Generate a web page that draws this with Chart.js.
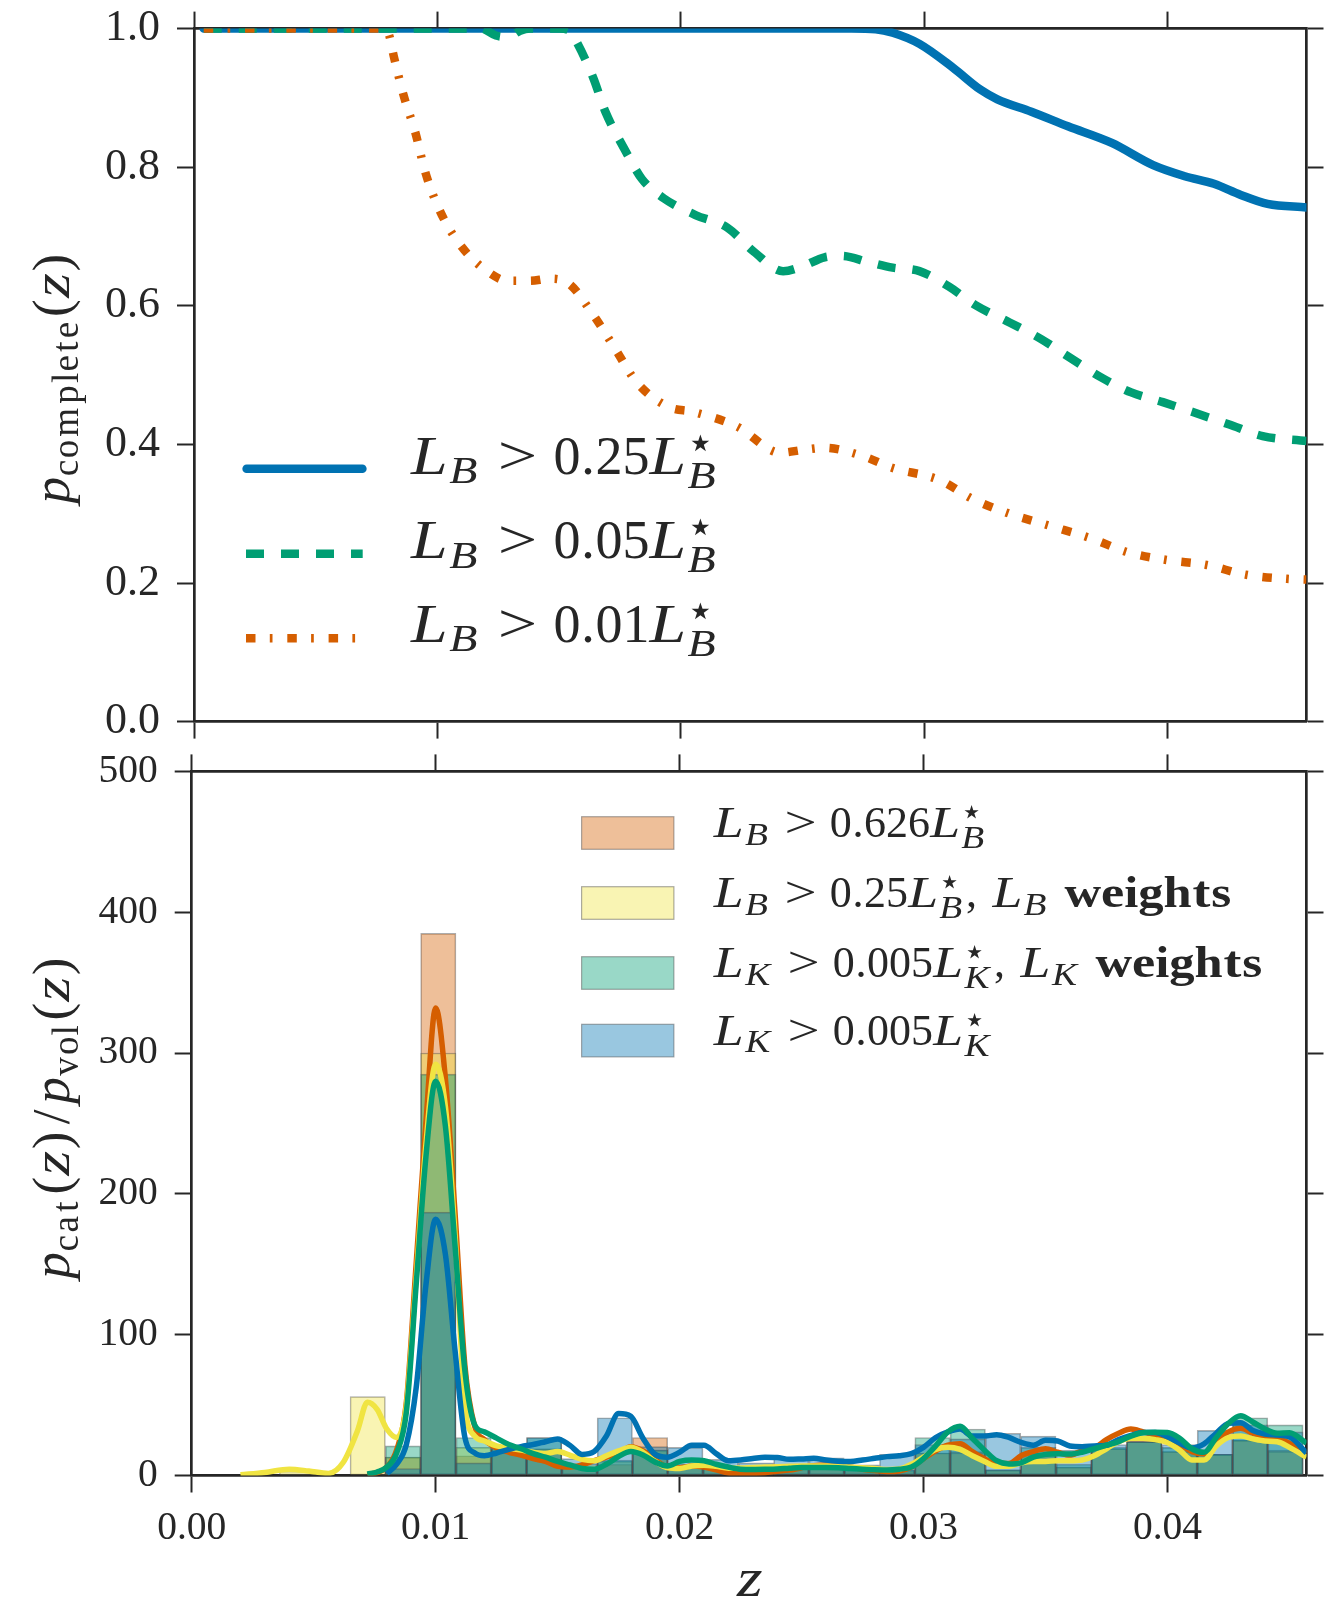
<!DOCTYPE html>
<html>
<head>
<meta charset="utf-8">
<script src="https://cdn.jsdelivr.net/npm/chart.js@4.4.1/dist/chart.umd.min.js"></script>
<style>
  html, body { margin: 0; padding: 0; background: #fff; }
  #page { position: relative; width: 1334px; height: 1600px; overflow: hidden; }
  #page canvas { position: absolute; left: 0; }
</style>
</head>
<body>
<div id="page">
  <canvas id="completeness" width="1334" height="750" style="top:0"></canvas>
  <canvas id="ratio" width="1334" height="850" style="top:750px"></canvas>
</div>
<script>
const INK = '#262626';
const SERIF = '"Liberation Serif", "DejaVu Serif", serif';
const BLUE = '#0072B2', GREEN = '#009E73', ORANGE = '#D55E00', YELLOW = '#F0E442';
const EDGE = 'rgba(70,70,70,0.45)';

// ---- axes
const zMax = 0.0457;
const zTicks = [0, 0.01, 0.02, 0.03, 0.04];
const pTicks = [0, 0.2, 0.4, 0.6, 0.8, 1.0];
const ratioTicks = [0, 100, 200, 300, 400, 500];

// ---- top panel: completeness curves
const brightZ = [0.0004, 0.0100, 0.0200, 0.0270, 0.0280, 0.0287, 0.0298, 0.0312, 0.0323, 0.0330, 0.0344, 0.0359, 0.0377, 0.0394, 0.0407, 0.0419, 0.0430, 0.0441, 0.0457];
const brightP = [1.000, 1.000, 1.000, 1.000, 0.999, 0.994, 0.978, 0.943, 0.912, 0.898, 0.880, 0.859, 0.835, 0.803, 0.787, 0.776, 0.760, 0.747, 0.742];

const midZ = [0.0004, 0.0118, 0.0124, 0.0129, 0.0134, 0.0138, 0.0150, 0.0154, 0.0157, 0.0164, 0.0169, 0.0177, 0.0184, 0.0193, 0.0206, 0.0219, 0.0230, 0.0242, 0.0250, 0.0259, 0.0266, 0.0277, 0.0287, 0.0298, 0.0310, 0.0321, 0.0335, 0.0348, 0.0359, 0.0373, 0.0385, 0.0398, 0.0410, 0.0425, 0.0439, 0.0457];
const midP = [1.000, 1.000, 0.990, 0.988, 0.997, 1.000, 1.000, 0.998, 0.982, 0.929, 0.880, 0.825, 0.783, 0.755, 0.731, 0.713, 0.678, 0.650, 0.657, 0.670, 0.672, 0.663, 0.655, 0.650, 0.628, 0.601, 0.576, 0.552, 0.527, 0.496, 0.475, 0.461, 0.447, 0.429, 0.412, 0.405];

const faintZ = [0.0004, 0.0077, 0.0080, 0.0082, 0.0086, 0.0091, 0.0095, 0.0101, 0.0110, 0.0122, 0.0129, 0.0138, 0.0146, 0.0154, 0.0164, 0.0173, 0.0182, 0.0195, 0.0205, 0.0223, 0.0241, 0.0250, 0.0259, 0.0274, 0.0287, 0.0306, 0.0320, 0.0335, 0.0352, 0.0368, 0.0384, 0.0400, 0.0416, 0.0432, 0.0449, 0.0457];
const faintP = [1.000, 1.000, 0.992, 0.961, 0.905, 0.849, 0.793, 0.737, 0.685, 0.646, 0.636, 0.636, 0.639, 0.632, 0.587, 0.538, 0.489, 0.454, 0.447, 0.426, 0.388, 0.392, 0.395, 0.384, 0.366, 0.349, 0.321, 0.300, 0.282, 0.265, 0.244, 0.233, 0.226, 0.212, 0.206, 0.205];

// ---- bottom panel: histograms (bin centres) and smoothed curves
const binCentres = [0.004321, 0.005768, 0.007215, 0.008662, 0.010109, 0.011556, 0.013003, 0.014450, 0.015897, 0.017344,
  0.018791, 0.020238, 0.021685, 0.023132, 0.024579, 0.026026, 0.027473, 0.028920, 0.030367, 0.031814,
  0.033261, 0.034708, 0.036155, 0.037602, 0.039049, 0.040496, 0.041943, 0.043390, 0.044837];
const histB626 = [0, 0, 0, 13, 385, 14, 18, 19, 5, 8, 27, 6, 5, 4, 6, 7, 3, 3, 16, 17, 4, 16, 6, 19, 26, 17, 15, 25, 18];
const histB25w = [3, 0, 56, 13, 300, 20, 19, 19, 8, 10, 18, 7, 6, 5, 6, 6, 4, 4, 16, 16, 4, 16, 6, 19, 24, 17, 15, 25, 17];
const histK005w = [0, 0, 0, 21, 285, 27, 20, 27, 6, 11, 18, 8, 6, 5, 6, 6, 5, 4, 27, 33, 4, 20, 8, 20, 24, 20, 15, 41, 36];
const histK005 = [0, 0, 0, 5, 187, 9, 20, 27, 12, 41, 20.5, 20, 11.5, 9, 12.5, 12.5, 7.5, 15, 22, 26, 30, 28, 18, 22, 24, 22, 32, 36, 31];

const kdeZ = [
  0.0000, 0.0010, 0.0020, 0.0030, 0.0040, 0.0048, 0.0056, 0.0062, 0.0068, 0.0072, 0.0076,
  0.0080, 0.0084, 0.0088, 0.0092, 0.0096, 0.0100, 0.0104, 0.0108, 0.0112, 0.0116, 0.0120,
  0.0125, 0.0130, 0.0135, 0.0140, 0.0145, 0.0150, 0.0155, 0.0160, 0.0165, 0.0170, 0.0175,
  0.0180, 0.0185, 0.0190, 0.0195, 0.0200, 0.0205, 0.0210, 0.0215, 0.0220, 0.0225, 0.0230,
  0.0235, 0.0240, 0.0245, 0.0250, 0.0255, 0.0260, 0.0265, 0.0270, 0.0275, 0.0280, 0.0285,
  0.0290, 0.0295, 0.0300, 0.0305, 0.0310, 0.0315, 0.0320, 0.0325, 0.0330, 0.0335, 0.0340,
  0.0345, 0.0350, 0.0355, 0.0360, 0.0365, 0.0370, 0.0375, 0.0380, 0.0385, 0.0390, 0.0395,
  0.0400, 0.0405, 0.0410, 0.0415, 0.0420, 0.0425, 0.0430, 0.0435, 0.0440, 0.0445, 0.0450,
  0.0457];
const kdeB626 = [
  null, null, null, null, null, null, null, null, null, 0.8, 2,
  6, 18, 52, 150, 250, 332, 282, 185, 78, 35, 25.5,
  19.5, 16.5, 14.5, 12, 10, 6.5, 6, 7.5, 10.5, 13, 15.5,
  20.5, 17.5, 11, 6, 5.5, 6.7, 6, 4, 1.8, 1.3, 1.5,
  2, 3, 3.8, 5.5, 7, 7.5, 7, 6, 4.5, 3.5, 2.8,
  3.2, 6, 12, 17.5, 21.5, 22.5, 17, 12, 8.5, 8.5, 14,
  17, 19, 16.5, 14.5, 17.5, 19.5, 25.5, 30, 33, 31, 28.5,
  26, 22, 17, 15.5, 24.5, 31, 33.5, 30, 27.5, 26.5, 23,
  15.5];
const kdeB25w = [
  null, null, 0.5, 2.2, 4.5, 3.2, 1.5, 9, 32, 52, 47,
  33, 27, 50, 140, 235, 292, 262, 170, 50, 28, 24.5,
  21, 19.5, 18, 16.5, 15.7, 17, 14.5, 11.5, 10.5, 14, 17.5,
  20, 16.5, 10, 5.5, 5, 6.8, 7.3, 6.5, 5.2, 5.3, 5.7,
  6, 6.3, 6.5, 6.7, 6.7, 6.7, 6.5, 6, 5.5, 5, 4.3,
  4.6, 8, 13, 18.5, 20, 18.5, 14, 10, 6.5, 6.5, 9,
  10, 10, 10.5, 10.5, 11, 14, 19, 24, 26.5, 26.4, 25.5,
  23.5, 18, 11, 11, 21, 27, 28, 26, 24.5, 24, 20,
  13];
const kdeK005w = [
  null, null, null, null, null, null, null, null, null, 1, 2.5,
  6, 16, 45, 135, 226, 280, 248, 162, 74, 36, 31,
  26.5, 22, 19, 15.5, 13, 10, 7.5, 5, 4.4, 8, 13.5,
  17, 14.5, 9.5, 6.7, 10, 11, 10.5, 8, 6, 4.5, 4.3,
  4.4, 4.6, 5.2, 5.7, 5.7, 5.7, 5.5, 5, 4.5, 4, 3.9,
  4.5, 6, 12, 21, 31, 35, 26.5, 18, 10.5, 8.2, 9,
  13, 15, 15.5, 15.2, 16.5, 19, 21.5, 24, 28, 30.4, 30.7,
  30.6, 26.5, 19, 16.5, 27, 37, 42.5, 38, 33, 30, 30.4,
  23];
const kdeK005 = [
  null, null, null, null, null, null, null, null, null, null, null,
  1.5, 8, 22, 62, 135, 182, 157, 88, 27, 16, 14,
  16, 18.5, 20.5, 22, 24, 26, 21.5, 15, 17, 28, 44,
  42, 26.5, 15, 13, 16.5, 21.5, 21.5, 15.5, 10.5, 11, 12,
  13, 12.8, 11.5, 11.8, 12.2, 11, 10.2, 10, 11, 12.2, 13.4,
  14, 15.5, 20, 27, 31, 33, 28, 28, 29, 27, 23.5,
  21.5, 25, 24.5, 21, 20.5, 21, 21.5, 25.5, 28.5, 30.5, 30.5,
  27.5, 23, 19.5, 22.5, 30, 37, 37.5, 32, 29.5, 28.7, 27.5,
  16];

const pts = (xs, ys) => xs.map((x, i) => ({ x, y: ys[i] }));

// ---- axis helper: spine + outward ticks, optional labels, fixed thickness
function frameAxis(position, min, max, tickValues, fit, labels) {
  const horiz = position === 'top' || position === 'bottom';
  return {
    type: 'linear', position, min, max, offset: false, z: 1,
    afterBuildTicks: s => { s.ticks = tickValues.map(v => ({ value: v })); },
    afterFit: s => {
      if (horiz) s.height = fit; else s.width = fit;
      s.paddingTop = 0; s.paddingBottom = 0; s.paddingLeft = 0; s.paddingRight = 0;
    },
    grid: { offset: false, drawOnChartArea: false, drawTicks: true, tickLength: 17, tickWidth: 2, tickColor: INK },
    border: { display: true, color: INK, width: 2.7 },
    ticks: labels
      ? { display: true, color: INK, padding: labels.pad, maxRotation: 0, autoSkip: false,
          font: { family: SERIF, size: labels.size }, callback: labels.fmt }
      : { display: false }
  };
}

// ---- math-ish text: glyphs placed on Computer Modern advance widths (em)
const CM_WIDTH = {
  r: { '0': .5, '1': .5, '2': .5, '5': .5, '6': .5, '.': .2778, ',': .2778, '(': .3889, ')': .3889, '/': .5, '>': .7778,
       c: .4444, o: .5, m: .8333, p: .5556, l: .2778, e: .4444, t: .3889, a: .5, v: .5278, '\u22C6': .5 },
  i: { L: .6806, B: .759, K: .849, p: .5035, z: .4651 },
  b: { w: .8313, e: .5271, i: .3194, g: .575, h: .6389, t: .4472, s: .4543 }
};
const it = t => ({ t, s: 'i' });
const rm = t => ({ t, s: 'r' });
const bf = t => ({ t, s: 'b' });
const sub = t => ({ t, s: 'i', k: 0.7, dy: 0.17 });
const subR = t => ({ t, s: 'r', k: 0.7, dy: 0.17 });
const REL = { gap: 0.2778 };
const SPACE = { gap: 0.3333 };
function lum(band) { return [it('L'), sub(band)]; }
function lumStar(band) {
  return [it('L'), { t: '\u22C6', s: 'r', k: 0.85, dy: -0.3, dx: 0.05, stack: true }, { t: band, s: 'i', k: 0.7, dy: 0.25 }];
}
function cut(value, band) { return [...lum(band), REL, rm('>'), REL, rm(value), ...lumStar(band)]; }

function runFont(r, size) {
  return (r.s === 'i' ? 'italic ' : '') + (r.s === 'b' ? 'bold ' : '') + (size * (r.k || 1)).toFixed(2) + 'px ' + SERIF;
}
function layRuns(ctx, runs, size, x, y, draw) {
  const x0 = x;
  for (const r of runs) {
    if (r.gap !== undefined) { x += r.gap * size; continue; }
    const k = r.k || 1;
    const fs = size * k;
    const script = k < 1 && r.t !== '\u22C6';
    ctx.font = runFont(r, size);
    let cx = x + (r.dx || 0) * size;
    for (const ch of r.t) {
      const mw = ctx.measureText(ch).width;
      const em = CM_WIDTH[r.s][ch];
      const adv = em !== undefined ? em * fs * (script ? 1.08 : 1) : mw;
      // widen letters towards the CM advance (roman digits/brackets stay as drawn)
      const limit = ch === '>' ? 1.3 : (r.s === 'r' ? 1 : 1.22);
      const sx = Math.max(1, Math.min(adv / mw, limit));
      if (draw) {
        ctx.save();
        ctx.translate(cx + (adv - mw * sx) / 2, y + (r.dy || 0) * size);
        ctx.scale(sx, 1);
        ctx.fillText(ch, 0, 0);
        ctx.restore();
      }
      cx += adv;
    }
    if (!r.stack) x = cx + (script ? 0.05 * size : 0);
  }
  return x - x0;
}
function drawRuns(ctx, runs, size, x, y) {
  ctx.textBaseline = 'alphabetic';
  ctx.textAlign = 'left';
  ctx.fillStyle = INK;
  layRuns(ctx, runs, size, x, y, true);
}
function drawVertical(ctx, runs, size, xBase, yCentre) {
  const w = layRuns(ctx, runs, size, 0, 0, false);
  ctx.save();
  ctx.translate(xBase, yCentre);
  ctx.rotate(-Math.PI / 2);
  drawRuns(ctx, runs, size, -w / 2, 0);
  ctx.restore();
}

// ---- top chart
const topLegend = [
  { ds: 0, y: 468.7, base: 474, runs: cut('0.25', 'B') },
  { ds: 1, y: 553.7, base: 558.4, runs: cut('0.05', 'B') },
  { ds: 2, y: 638.3, base: 642.3, runs: cut('0.01', 'B') }
];

const topText = {
  id: 'topText',
  afterDraw(chart) {
    const ctx = chart.ctx;
    drawVertical(ctx, [it('p'), subR('complete'), rm('('), it('z'), rm(')')], 53, 68.8, 378);
    for (const row of topLegend) {
      const ds = chart.data.datasets[row.ds];
      ctx.save();
      ctx.strokeStyle = ds.borderColor;
      ctx.lineWidth = ds.borderWidth;
      ctx.setLineDash(ds.borderDash || []);
      ctx.lineCap = ds.borderCapStyle || 'butt';
      ctx.beginPath();
      if (ctx.lineCap === 'round') { ctx.moveTo(246.6, row.y); ctx.lineTo(362.4, row.y); }
      else { ctx.moveTo(246, row.y); ctx.lineTo(362.7, row.y); }
      ctx.stroke();
      ctx.restore();
      drawRuns(ctx, row.runs, 54, 411, row.base);
    }
  }
};

new Chart(document.getElementById('completeness'), {
  type: 'line',
  data: {
    datasets: [
      { label: 'L_B > 0.25 L_B*', data: pts(brightZ, brightP), borderColor: BLUE, borderWidth: 8.5,
        borderCapStyle: 'round', order: 2 },
      { label: 'L_B > 0.05 L_B*', data: pts(midZ, midP), borderColor: GREEN, borderWidth: 8.5,
        borderDash: [18, 17], order: 1 },
      { label: 'L_B > 0.01 L_B*', data: pts(faintZ, faintP), borderColor: ORANGE, borderWidth: 8.5,
        borderDash: [9.5, 14.3, 2.7, 14.8], order: 0 }
    ]
  },
  options: {
    responsive: false, animation: false, devicePixelRatio: 1,
    layout: { padding: 0 },
    elements: { point: { radius: 0 }, line: { cubicInterpolationMode: 'monotone', fill: false } },
    datasets: { line: { clip: 0 } },
    scales: {
      x: frameAxis('bottom', 0, zMax, zTicks, 28.4, null),
      x2: frameAxis('top', 0, zMax, zTicks, 28.6, null),
      y: frameAxis('left', 0, 1, pTicks, 194, { size: 44, pad: 17, fmt: v => v.toFixed(1) }),
      y2: frameAxis('right', 0, 1, pTicks, 27.5, null)
    },
    plugins: { legend: { display: false }, tooltip: { enabled: false } }
  },
  plugins: [topText]
});

// ---- bottom chart
const ratioLegend = [
  { ds: 0, top: 66.7, base: 87.3, runs: cut('0.626', 'B') },
  { ds: 1, top: 136.7, base: 157.3, runs: [...cut('0.25', 'B'), rm(','), SPACE, ...lum('B'), SPACE, bf('weights')] },
  { ds: 2, top: 206.7, base: 227.3, runs: [...cut('0.005', 'K'), rm(','), SPACE, ...lum('K'), SPACE, bf('weights')] },
  { ds: 3, top: 274.3, base: 295, runs: cut('0.005', 'K') }
];

const ratioText = {
  id: 'ratioText',
  afterDraw(chart) {
    const ctx = chart.ctx;
    drawVertical(ctx, [it('p'), subR('cat'), rm('('), it('z'), rm(')'), rm('/'), it('p'), subR('vol'), rm('('), it('z'), rm(')')],
      53, 68.8, 367.5);
    drawRuns(ctx, [it('z')], 55, 737, 846);
    for (const row of ratioLegend) {
      const ds = chart.data.datasets[row.ds];
      ctx.fillStyle = ds.backgroundColor;
      ctx.fillRect(581.6, row.top, 92.3, 32.6);
      ctx.strokeStyle = EDGE;
      ctx.lineWidth = 1.2;
      ctx.strokeRect(581.6, row.top, 92.3, 32.6);
      drawRuns(ctx, row.runs, 44, 713.8, row.base);
    }
  }
};

const barStyle = { type: 'bar', borderColor: EDGE, borderWidth: 1, borderSkipped: false, grouped: false,
  barPercentage: 1, categoryPercentage: 1, clip: 0 };
const kdeStyle = { type: 'line', borderWidth: 5.5, pointRadius: 0, cubicInterpolationMode: 'monotone',
  spanGaps: false, clip: 0 };

new Chart(document.getElementById('ratio'), {
  type: 'line',
  data: {
    datasets: [
      { ...barStyle, label: 'L_B > 0.626 L_B*', data: pts(binCentres, histB626), backgroundColor: 'rgba(213,94,0,0.4)', order: 13 },
      { ...barStyle, label: 'L_B > 0.25 L_B*, L_B weights', data: pts(binCentres, histB25w), backgroundColor: 'rgba(240,228,66,0.4)', order: 12 },
      { ...barStyle, label: 'L_K > 0.005 L_K*, L_K weights', data: pts(binCentres, histK005w), backgroundColor: 'rgba(0,158,115,0.4)', order: 11 },
      { ...barStyle, label: 'L_K > 0.005 L_K*', data: pts(binCentres, histK005), backgroundColor: 'rgba(0,114,178,0.4)', order: 10 },
      { ...kdeStyle, label: 'kde 0.626', data: pts(kdeZ, kdeB626), borderColor: ORANGE, order: 3 },
      { ...kdeStyle, label: 'kde 0.25 w', data: pts(kdeZ, kdeB25w), borderColor: YELLOW, order: 2 },
      { ...kdeStyle, label: 'kde 0.005', data: pts(kdeZ, kdeK005), borderColor: BLUE, order: 1 },
      { ...kdeStyle, label: 'kde 0.005 w', data: pts(kdeZ, kdeK005w), borderColor: GREEN, order: 0 }
    ]
  },
  options: {
    responsive: false, animation: false, devicePixelRatio: 1,
    layout: { padding: 0 },
    scales: {
      x: frameAxis('bottom', 0, zMax, zTicks, 124.5, { size: 39.5, pad: 12, fmt: v => v.toFixed(2) }),
      x2: frameAxis('top', 0, zMax, zTicks, 21.4, null),
      y: frameAxis('left', 0, 500, ratioTicks, 191.7, { size: 39.5, pad: 17, fmt: v => String(v) }),
      y2: frameAxis('right', 0, 500, ratioTicks, 27.5, null)
    },
    plugins: { legend: { display: false }, tooltip: { enabled: false } }
  },
  plugins: [ratioText]
});
</script>
</body>
</html>
